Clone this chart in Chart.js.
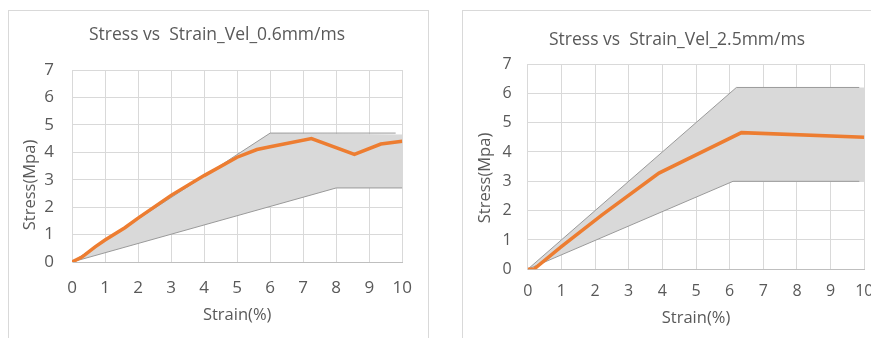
<!DOCTYPE html>
<html><head><meta charset="utf-8">
<script src="https://cdn.jsdelivr.net/npm/chart.js@4.4.1/dist/chart.umd.min.js"></script>
<style>
html,body{margin:0;padding:0;background:#fff;overflow:hidden;width:871px;height:338px;}
.card{position:absolute;border:1px solid #d9d9d9;background:#fff;box-sizing:border-box;}
canvas{position:absolute;}
</style></head><body>
<div class="card" style="left:8px;top:10px;width:421px;height:340px"></div>
<div class="card" style="left:462px;top:10px;width:440px;height:340px"></div>
<canvas id="c1" width="420" height="328" style="left:8px;top:10px;width:420px;height:328px"></canvas>
<canvas id="c2" width="430" height="328" style="left:462px;top:10px;width:430px;height:328px"></canvas>
<script>
// ---- data ----
const strainTicks = [0,1,2,3,4,5,6,7,8,9,10];
const stressTicks = [0,1,2,3,4,5,6,7];

// Chart 1: Vel 0.6 mm/ms
const v06Strain = [0, 0.3, 0.7, 1.0, 1.6, 2.0, 3.0, 4.0, 5.0, 5.6, 6.0, 7.25, 8.55, 9.35, 10];
const v06Stress = [0, 0.18, 0.55, 0.8, 1.25, 1.6, 2.43, 3.15, 3.82, 4.1, 4.2, 4.5, 3.92, 4.3, 4.4];
const v06UpperStrain = [0, 6, 9.8];
const v06UpperStress = [0, 4.7, 4.7];
const v06LowerStrain = [0, 8, 10];
const v06LowerStress = [0, 2.7, 2.7];
const v06BandTopStrain = [0, 6, 10];
const v06BandTopStress = [0, 4.7, 4.65];
const v06BandBotStrain = [0, 8, 10];
const v06BandBotStress = [0, 2.7, 2.7];

// Chart 2: Vel 2.5 mm/ms
const v25Strain = [0, 0.18, 1.0, 2.2, 3.9, 6.35, 10];
const v25Stress = [0, 0, 0.77, 1.85, 3.28, 4.66, 4.5];
const v25UpperStrain = [0, 6.2, 9.85];
const v25UpperStress = [0, 6.2, 6.2];
const v25LowerStrain = [0, 6.1, 9.85];
const v25LowerStress = [0, 3.0, 3.0];
const v25BandTopStrain = [0, 6.2, 10];
const v25BandTopStress = [0, 6.2, 6.2];
const v25BandBotStrain = [0, 6.1, 10];
const v25BandBotStress = [0, 3.0, 3.0];

const toXY = (xs, ys) => xs.map((x, i) => ({x: x, y: ys[i]}));

const textColor = '#595959';
const gridColor = '#d9d9d9';
const orange = '#ED7D31';
const edgeGray = '#9a9a9a';
const bandFill = '#d9d9d9';
const FONT = '"Open Sans", "Noto Sans", sans-serif';

const textPlugin = {
  id: 'fixedTexts',
  afterDraw(chart, args, o) {
    const ctx = chart.ctx;
    ctx.save();
    ctx.fillStyle = o.color;
    ctx.textAlign = 'center';
    ctx.textBaseline = 'middle';
    ctx.font = o.titleFont;
    ctx.fillText(o.title, o.titleX, o.titleY);
    ctx.font = o.yFont;
    ctx.translate(o.yX, o.yY);
    ctx.rotate(-Math.PI / 2);
    ctx.fillText(o.yText, 0, 0);
    ctx.restore();
  }
};

function makeChart(id, cfg) {
  const datasets = [
    {data: toXY(cfg.line[0], cfg.line[1]), borderColor: orange, borderWidth: 3.5, pointRadius: 0, fill: false, tension: 0},
    {data: toXY(cfg.upper[0], cfg.upper[1]), borderColor: edgeGray, borderWidth: 1, pointRadius: 0, fill: false},
    {data: toXY(cfg.lower[0], cfg.lower[1]), borderColor: edgeGray, borderWidth: 1, pointRadius: 0, fill: false},
    {data: toXY(cfg.bandTop[0], cfg.bandTop[1]), borderWidth: 0, borderColor: 'rgba(0,0,0,0)', backgroundColor: bandFill, pointRadius: 0, fill: 4},
    {data: toXY(cfg.bandBot[0], cfg.bandBot[1]), borderWidth: 0, borderColor: 'rgba(0,0,0,0)', pointRadius: 0, fill: false}
  ];
  return new Chart(document.getElementById(id), {
    type: 'line',
    data: {datasets},
    plugins: [textPlugin],
    options: {
      responsive: false,
      animation: false,
      events: [],
      layout: {padding: {left: 0, top: cfg.top, right: cfg.right, bottom: 0}},
      plugins: {
        legend: {display: false},
        tooltip: {enabled: false},
        title: {display: false},
        fixedTexts: {
          color: textColor,
          title: cfg.title, titleFont: '17.5px ' + FONT, titleX: cfg.titleX, titleY: cfg.titleY,
          yText: 'Stress(Mpa)', yFont: '16.5px ' + FONT, yX: cfg.yTitleX, yY: cfg.yTitleY
        }
      },
      scales: {
        x: {
          type: 'linear', min: 0, max: 10,
          afterBuildTicks: s => { s.ticks = strainTicks.map(v => ({value: v})); },
          afterFit: s => { s.height = cfg.xH; },
          grid: {color: gridColor, drawTicks: false},
          border: {color: '#bfbfbf'},
          ticks: {color: textColor, font: {family: FONT, size: cfg.tickSize}, padding: cfg.xPad, maxRotation: 0, autoSkip: false},
          title: {display: true, text: 'Strain(%)', color: textColor, font: {family: FONT, size: 16.5}, padding: {top: 0, bottom: cfg.xTitlePad}}
        },
        y: {
          type: 'linear', min: 0, max: 7,
          afterBuildTicks: s => { s.ticks = stressTicks.map(v => ({value: v})); },
          afterFit: s => { s.width = cfg.yW; },
          grid: {color: gridColor, drawTicks: false},
          border: {color: gridColor},
          ticks: {color: textColor, font: {family: FONT, size: cfg.tickSize}, padding: cfg.yPad}
        }
      }
    }
  });
}

makeChart('c1', {
  line: [v06Strain, v06Stress], upper: [v06UpperStrain, v06UpperStress], lower: [v06LowerStrain, v06LowerStress],
  bandTop: [v06BandTopStrain, v06BandTopStress], bandBot: [v06BandBotStrain, v06BandBotStress],
  title: 'Stress vs  Strain_Vel_0.6mm/ms', titleX: 209, titleY: 25,
  yTitleX: 22, yTitleY: 175,
  top: 60, right: 21, yW: 64, xH: 76, tickSize: 17, xPad: 16, yPad: 18, xTitlePad: 13
});
makeChart('c2', {
  line: [v25Strain, v25Stress], upper: [v25UpperStrain, v25UpperStress], lower: [v25LowerStrain, v25LowerStress],
  bandTop: [v25BandTopStrain, v25BandTopStress], bandBot: [v25BandBotStrain, v25BandBotStress],
  title: 'Stress vs  Strain_Vel_2.5mm/ms', titleX: 215, titleY: 30,
  yTitleX: 23, yTitleY: 168,
  top: 54, right: 27.7, yW: 65.7, xH: 68.7, tickSize: 16, xPad: 13, yPad: 16, xTitlePad: 10
});
</script>
</body></html>
